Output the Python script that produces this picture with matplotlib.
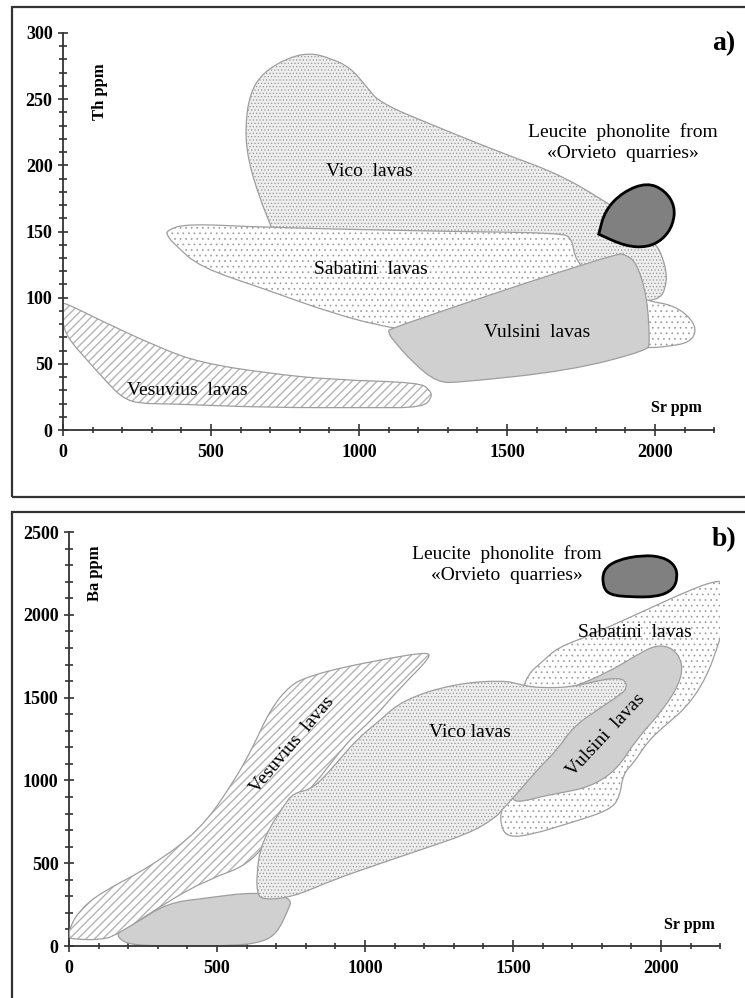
"""
Th-Sr and Ba-Sr fields for Roman province lavas vs. Orvieto leucite phonolite.
"""

import matplotlib
matplotlib.use("Agg")
import matplotlib as mpl
from matplotlib import pyplot as plt
from matplotlib.patches import PathPatch, Rectangle
from matplotlib.path import Path

plt.rcParams["font.family"] = ["Liberation Serif", "DejaVu Serif"]

# ---- panel a) Th vs Sr ------------------------------------------------------
vico_a_sr = [834, 902, 970, 1027, 1071, 1264, 1486, 1669, 1824, 1949, 2000,
             2017, 2041, 2034, 2017, 1983, 1814, 1139, 709, 709, 666, 625,
             615, 632, 676, 757]
vico_a_th = [285, 281, 274, 259, 247, 229, 209, 194, 174, 155, 140,
             136, 119, 106, 100, 98, 83, 83, 147, 151, 174, 204,
             229, 255, 270, 281]

sabatini_a_sr = [351, 419, 689, 1307, 1679, 1720, 1730, 1814, 1983, 2051,
                 2111, 2142, 2118, 2034, 1976, 1476, 1105, 912, 689, 463,
                 378, 351]
sabatini_a_th = [151, 156, 153, 150, 149, 145, 128, 110, 97, 95,
                 87, 76, 66, 63, 62, 64, 77, 88, 106, 123,
                 140, 147]

vulsini_a_sr = [1105, 1872, 1905, 1939, 1973, 1983, 1973, 1713, 1341, 1264,
                1182, 1115, 1098]
vulsini_a_th = [77, 134, 132, 126, 101, 66, 60, 45, 36, 36,
                51, 68, 74]

vesuvius_a_sr = [0, 125, 328, 463, 689, 912, 1206, 1240, 1247, 1216, 1037,
                 689, 351, 260, 203, 149, 81, 14, -3, -3]
vesuvius_a_th = [97, 83, 62, 51, 43, 38, 36, 30, 25, 17, 17,
                 17, 20, 20, 24, 36, 53, 70, 83, 94]

phon_a_sr = [1973, 2034, 2068, 2061, 2027, 1973, 1899, 1810, 1810, 1831, 1892]
phon_a_th = [187, 181, 169, 155, 144, 138, 139, 148, 148, 166, 180]

# ---- panel b) Ba vs Sr ------------------------------------------------------
sabatini_b_sr = [1547, 1601, 1650, 1736, 1828, 1963, 2098, 2182, 2213, 2226,
                 2215, 2199, 2155, 2088, 2007, 1953, 1910, 1872, 1861, 1828,
                 1693, 1557, 1490, 1463, 1456, 1480, 1507, 1524]
sabatini_b_ba = [1636, 1720, 1800, 1860, 1930, 2040, 2150, 2204, 2198, 2120,
                 1950, 1848, 1624, 1443, 1322, 1230, 1110, 1040, 900, 821,
                 743, 670, 658, 700, 803, 882, 1123, 1486]

vulsini_b_sr = [1591, 1659, 1760, 1851, 1915, 2007, 2064, 2074, 2041, 1986,
                1929, 1818, 1703, 1591, 1490, 1500, 1550]
vulsini_b_ba = [900, 924, 960, 1063, 1244, 1425, 1588, 1709, 1800, 1818,
                1769, 1649, 1564, 1486, 942, 870, 880]

vulsini_low_sr = [162, 216, 331, 466, 622, 757, 736, 703, 655, 554, 331, 216, 172]
vulsini_low_ba = [85, 127, 260, 290, 326, 296, 199, 79, 24, 0, 0, 6, 36]

vico_b_sr = [655, 635, 635, 645, 679, 723, 757, 824, 899, 970, 1044, 1128,
             1297, 1466, 1530, 1591, 1703, 1794, 1851, 1878, 1885, 1872,
             1784, 1703, 1649, 1591, 1524, 1463, 1439, 1355, 1186, 1017,
             892, 757]
vico_b_ba = [278, 320, 441, 580, 719, 839, 924, 948, 1093, 1244, 1353, 1486,
             1582, 1606, 1576, 1558, 1564, 1606, 1618, 1606, 1564, 1528,
             1425, 1322, 1184, 1081, 942, 821, 773, 682, 580, 477,
             399, 296]

vesuvius_b_sr = [0, 3, 37, 105, 274, 443, 554, 622, 679, 747, 814, 916,
                 1051, 1203, 1226, 1118, 1024, 939, 824, 723, 622, 466,
                 331, 162, 105, 10]
vesuvius_b_ba = [54, 115, 217, 320, 477, 700, 984, 1202, 1425, 1576, 1630,
                 1679, 1727, 1775, 1751, 1558, 1365, 1232, 960, 779, 501,
                 399, 266, 66, 36, 42]

phon_b_sr = [1804, 1851, 1939, 2007, 2047, 2057, 2041, 1986, 1895, 1828, 1804]
phon_b_ba = [2271, 2331, 2361, 2349, 2301, 2228, 2150, 2108, 2108, 2120, 2168]

sr_ticks = [0, 500, 1000, 1500, 2000]
th_ticks = [0, 50, 100, 150, 200, 250, 300]
ba_ticks = [0, 500, 1000, 1500, 2000, 2500]


def smooth_path(xs, ys):
    # closed outline, drawn as quadratic curves with the vertices as controls
    pts = list(zip(xs, ys))
    n = len(pts)
    mids = [((pts[i][0] + pts[(i + 1) % n][0]) / 2,
             (pts[i][1] + pts[(i + 1) % n][1]) / 2) for i in range(n)]
    verts = [mids[-1]]
    codes = [Path.MOVETO]
    for i in range(n):
        verts += [pts[i], mids[i]]
        codes += [Path.CURVE3, Path.CURVE3]
    verts.append(mids[-1])
    codes.append(Path.CLOSEPOLY)
    return Path(verts, codes)


def field(ax, xs, ys, face="white", hatch=None, hcolor="0.6", hlw=0.6,
          edge="0.62", lw=0.9, z=1):
    p = smooth_path(xs, ys)
    ax.add_patch(PathPatch(p, facecolor=face, edgecolor="none", zorder=z))
    if hatch:
        with mpl.rc_context({"hatch.linewidth": hlw}):
            ax.add_patch(PathPatch(p, fill=False, hatch=hatch,
                                   edgecolor=hcolor, linewidth=0, zorder=z))
    ax.add_patch(PathPatch(p, fill=False, edgecolor=edge, linewidth=lw,
                           zorder=z))


def style_axes(ax, xmax, ymax, yticks, ymin_step, xlabel_pos, ylabel, ylabel_pos):
    ax.set_xlim(0, xmax)
    ax.set_ylim(0, ymax)
    for s in ["top", "right"]:
        ax.spines[s].set_visible(False)
    for s in ["left", "bottom"]:
        ax.spines[s].set_color("#333333")
        ax.spines[s].set_linewidth(1.3)
    ax.set_xticks(sr_ticks)
    ax.set_xticklabels([str(t) for t in sr_ticks], fontweight="bold", fontsize=13)
    ax.set_xticks(range(0, xmax + 1, 100), minor=True)
    ax.set_yticks(yticks)
    ax.set_yticklabels([str(t) for t in yticks], fontweight="bold", fontsize=13)
    ax.set_yticks(range(0, ymax + 1, ymin_step), minor=True)
    ax.tick_params(which="both", direction="inout", color="#222222", width=1.1)
    ax.tick_params(axis="x", which="major", length=8.5, pad=6)
    ax.tick_params(axis="x", which="minor", length=4)
    ax.tick_params(axis="y", which="major", length=7, pad=4)
    ax.tick_params(axis="y", which="minor", length=6)
    ax.patch.set_alpha(0)
    ax.text(*xlabel_pos, "Sr ppm", fontsize=11.5, fontweight="bold",
            ha="center", va="center")
    ax.text(*ylabel_pos, ylabel, fontsize=12, fontweight="bold",
            rotation=90, ha="center", va="center")


fig = plt.figure(figsize=(7.45, 9.98), dpi=100)

# outer frames
fig.add_artist(Rectangle((0.016, 0.502), 1.0, 0.491, transform=fig.transFigure,
                         fill=False, edgecolor="#333333", linewidth=1.6))
fig.add_artist(Rectangle((0.016, -0.02), 1.0, 0.507, transform=fig.transFigure,
                         fill=False, edgecolor="#333333", linewidth=1.6))

lab = dict(fontsize=14, ha="center", va="center", zorder=10)

# ---- a)
ax1 = fig.add_axes([0.0846, 0.569, 0.874, 0.398])
field(ax1, vico_a_sr, vico_a_th, face="#eeeeee", hatch=".....",
      hcolor="#959595", hlw=0.5, z=1)
field(ax1, sabatini_a_sr, sabatini_a_th, hatch="...", hcolor="#9a9a9a",
      hlw=0.5, z=2)
field(ax1, vesuvius_a_sr, vesuvius_a_th, hatch="////", hcolor="#b4b4b4",
      hlw=1.0, z=2)
field(ax1, vulsini_a_sr, vulsini_a_th, face="#d0d0d0", z=3)
field(ax1, phon_a_sr, phon_a_th, face="#808080", edge="black", lw=2.0, z=4)
ax1.text(1034, 195, "Vico  lavas", **lab)
ax1.text(1041, 121, "Sabatini  lavas", **lab)
ax1.text(1601, 74, "Vulsini  lavas", **lab)
ax1.text(419, 30, "Vesuvius  lavas", **lab)
ax1.text(1892, 217, "Leucite  phonolite  from\n«Orvieto  quarries»",
         linespacing=1.3, **lab)
ax1.text(2232, 292, "a)", fontsize=20, fontweight="bold", ha="center",
         va="center", clip_on=False)
style_axes(ax1, 2200, 300, th_ticks, 10, (2074, 17), "Th ppm", (125, 256))

# ---- b)
ax2 = fig.add_axes([0.0926, 0.0521, 0.874, 0.4148])
field(ax2, sabatini_b_sr, sabatini_b_ba, hatch="...", hcolor="#9a9a9a",
      hlw=0.5, z=1)
field(ax2, vulsini_b_sr, vulsini_b_ba, face="#d0d0d0", z=2)
field(ax2, vulsini_low_sr, vulsini_low_ba, face="#d0d0d0", z=2)
field(ax2, vesuvius_b_sr, vesuvius_b_ba, hatch="////", hcolor="#b4b4b4",
      hlw=1.0, z=3)
field(ax2, vico_b_sr, vico_b_ba, face="#eeeeee", hatch=".....",
      hcolor="#959595", hlw=0.5, z=3)
field(ax2, phon_b_sr, phon_b_ba, face="#808080", edge="black", lw=2.0, z=4)
ax2.text(1355, 1291, "Vico lavas", **lab)
ax2.text(1912, 1896, "Sabatini  lavas", **lab)
ax2.text(1814, 1274, "Vulsini  lavas", rotation=47, rotation_mode="anchor",
         **lab)
ax2.text(753, 1214, "Vesuvius  lavas", rotation=50, rotation_mode="anchor",
         **lab)
ax2.text(1480, 2301, "Leucite  phonolite  from\n«Orvieto  quarries»",
         linespacing=1.3, **lab)
ax2.text(2212, 2452, "b)", fontsize=20, fontweight="bold", ha="center",
         va="center", clip_on=False)
style_axes(ax2, 2200, 2500, ba_ticks, 100, (2098, 127), "Ba ppm", (88, 2252))

fig.savefig("out.png", dpi=100)
